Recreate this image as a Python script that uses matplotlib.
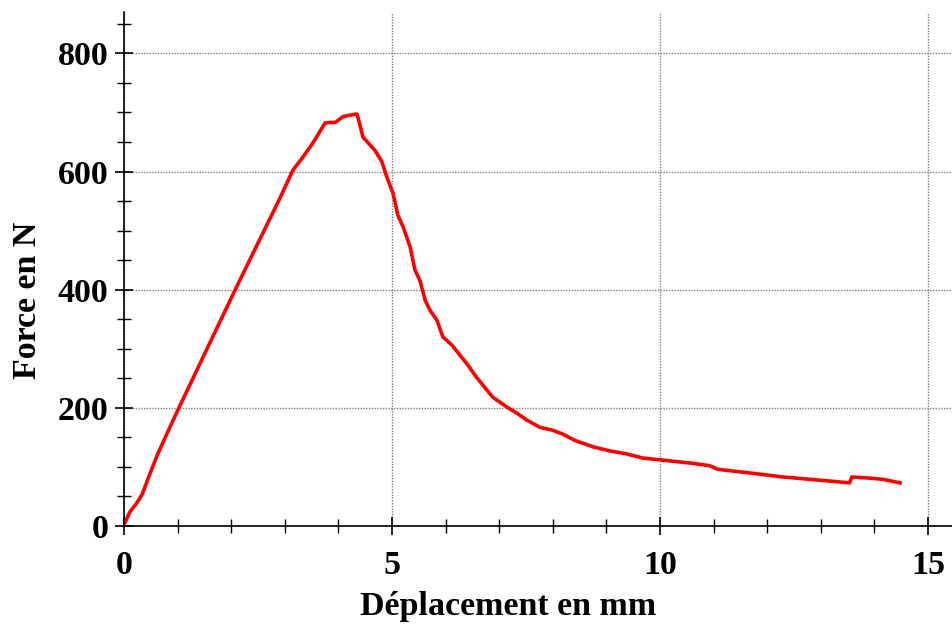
import matplotlib
matplotlib.use("Agg")
import matplotlib.pyplot as plt
from matplotlib.ticker import MultipleLocator

# force / displacement curve
depl = [0.0, 0.11, 0.24, 0.34, 0.49, 0.63, 0.80, 1.04, 2.07, 2.91, 3.15, 3.32,
        3.53, 3.75, 3.84, 3.94, 4.09, 4.31, 4.35, 4.46, 4.55, 4.68, 4.81, 4.91,
        5.02, 5.11, 5.21, 5.34, 5.43, 5.52, 5.62, 5.71, 5.84, 5.95, 6.12, 6.27,
        6.42, 6.55, 6.70, 6.88, 7.15, 7.33, 7.52, 7.76, 8.00, 8.20, 8.41, 8.75,
        9.07, 9.38, 9.68, 10.0, 10.31, 10.62, 10.93, 11.08, 11.36, 11.75, 12.29,
        12.93, 13.54, 13.58, 13.92, 14.16, 14.48]
force = [2, 24, 39, 54, 90, 122, 156, 203, 399, 555, 602, 622,
         649, 682, 683, 683, 693, 697, 697, 658, 649, 636, 617, 589,
         563, 526, 506, 472, 433, 416, 382, 365, 348, 320, 306, 289,
         272, 255, 238, 218, 201, 191, 179, 167, 162, 155, 145, 134,
         127, 122, 115, 112, 109, 106, 102, 96, 93, 89, 83,
         78, 73, 83, 81, 79, 73]

xticks = [0, 5, 10, 15]
yticks = [0, 200, 400, 600, 800]

plt.rcParams['font.family'] = ['Liberation Serif', 'DejaVu Serif']
plt.rcParams['font.weight'] = 'bold'

fig = plt.figure(figsize=(9.52, 6.32), dpi=100)
ax = fig.add_axes([124 / 952, 106 / 632, 828 / 952, 514 / 632])

ax.plot(depl, force, color='#ff0000', lw=2.6, solid_joinstyle='round')

ax.set_xlim(0, 15.45)
ax.set_ylim(0, 870)
ax.set_xticks(xticks)
ax.set_yticks(yticks)
ax.xaxis.set_minor_locator(MultipleLocator(1))
ax.yaxis.set_minor_locator(MultipleLocator(50))

ax.grid(True, which='major', color='#808080', ls=(0, (1, 1)), lw=1)
ax.tick_params(which='major', direction='inout', length=12.5, width=1.2,
               labelsize=24.5, pad=5)
ax.tick_params(which='minor', direction='inout', length=10, width=1.0)
ax.tick_params(axis='x', pad=11)

for s in ['top', 'right']:
    ax.spines[s].set_visible(False)
for s in ['left', 'bottom']:
    ax.spines[s].set_linewidth(1.2)

ax.set_xlabel("Déplacement en mm", fontsize=24.5, fontweight='bold')
ax.set_ylabel("Force en N", fontsize=24.5, fontweight='bold')
ax.xaxis.set_label_coords(0.464, -0.127)
ax.yaxis.set_label_coords(-0.098, 0.44)

fig.savefig("out.png", dpi=100)
